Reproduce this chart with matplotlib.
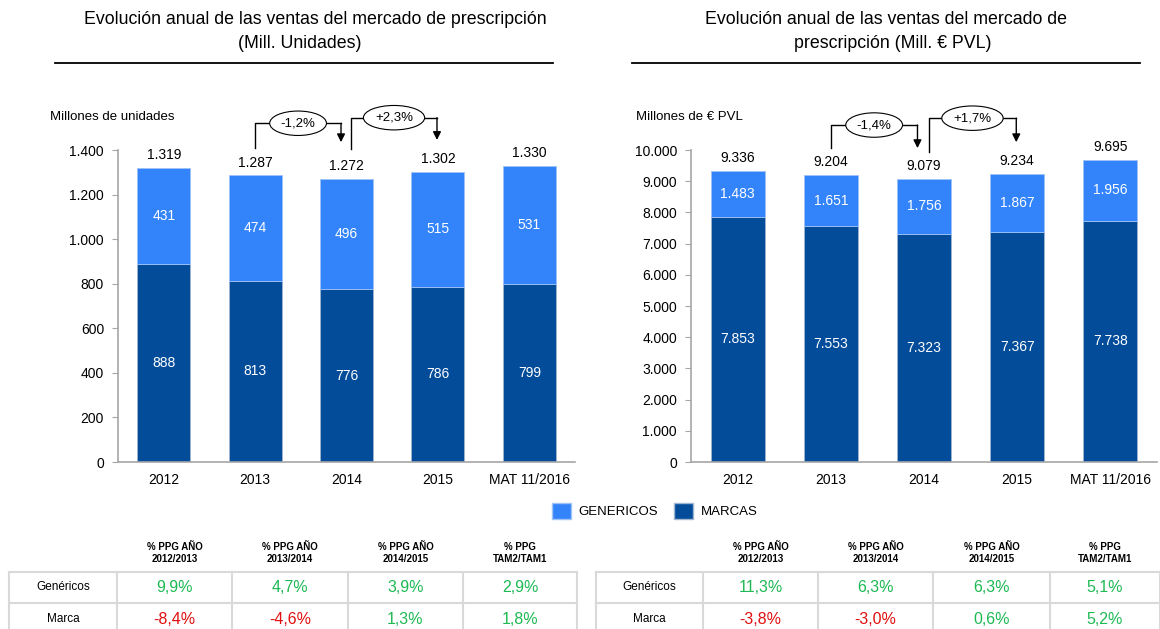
import matplotlib
matplotlib.use('Agg')
import matplotlib.pyplot as plt
from matplotlib.patches import Patch
from matplotlib.lines import Line2D
from matplotlib.ticker import FuncFormatter

plt.rcParams['font.family'] = ['Liberation Sans', 'DejaVu Sans']

# data
categories = ['2012', '2013', '2014', '2015', 'MAT 11/2016']
unid_marcas = [888, 813, 776, 786, 799]
unid_genericos = [431, 474, 496, 515, 531]
unid_total = [1319, 1287, 1272, 1302, 1330]
pvl_marcas = [7853, 7553, 7323, 7367, 7738]
pvl_genericos = [1483, 1651, 1756, 1867, 1956]
pvl_total = [9336, 9204, 9079, 9234, 9695]
unid_growth = ['-1,2%', '+2,3%']
pvl_growth = ['-1,4%', '+1,7%']

tbl_headers = ['% PPG AÑO\n2012/2013', '% PPG AÑO\n2013/2014', '% PPG AÑO\n2014/2015', '% PPG\nTAM2/TAM1']
tbl_rows = ['Genéricos', 'Marca']
unid_gen_pct = ['9,9%', '4,7%', '3,9%', '2,9%']
unid_mar_pct = ['-8,4%', '-4,6%', '1,3%', '1,8%']
pvl_gen_pct = ['11,3%', '6,3%', '6,3%', '5,1%']
pvl_mar_pct = ['-3,8%', '-3,0%', '0,6%', '5,2%']

C_GEN = '#3384FA'
C_MAR = '#024C9A'
GREEN = '#1DB954'
RED = '#E01010'
W, H = 1160, 629

fig = plt.figure(figsize=(11.6, 6.29), dpi=100)


def fx(px):
    return px / W


def fy(py):
    return 1 - py / H


def thousands(v, pos=None):
    return '{:,.0f}'.format(v).replace(',', '.')


def bar_panel(ax, marcas, genericos, total, ymax, step):
    x = range(len(categories))
    ax.bar(x, marcas, width=0.58, color=C_MAR, edgecolor='#9fb5d0', linewidth=0.6, zorder=2)
    ax.bar(x, genericos, bottom=marcas, width=0.58, color=C_GEN, edgecolor='#9fc3f5', linewidth=0.6, zorder=2)
    ax.set_xlim(-0.5, 4.5)
    ax.set_ylim(0, ymax)
    ax.set_yticks(range(0, ymax + 1, step))
    ax.yaxis.set_major_formatter(FuncFormatter(thousands))
    ax.set_xticks(list(x))
    ax.set_xticklabels(categories)
    for s in ['top', 'right']:
        ax.spines[s].set_visible(False)
    for s in ['left', 'bottom']:
        ax.spines[s].set_color('#a6a6a6')
        ax.spines[s].set_linewidth(1.2)
    ax.tick_params(axis='y', length=4, color='#a6a6a6', labelsize=10, pad=6)
    ax.tick_params(axis='x', length=0, labelsize=10, pad=8)
    for i in x:
        ax.text(i, marcas[i] / 2, thousands(marcas[i]), ha='center', va='center',
                color='white', fontsize=10)
        ax.text(i, marcas[i] + genericos[i] / 2, thousands(genericos[i]), ha='center',
                va='center', color='white', fontsize=10)
        ax.annotate(thousands(total[i]), (i, total[i]), xytext=(0, 4),
                    textcoords='offset points', ha='center', va='bottom', fontsize=10)


def connector(ax, x0, x1, y0, yline, ytip, label):
    ax.plot([x0, x0, x1], [y0, yline, yline], color='black', lw=1, clip_on=False)
    ax.annotate('', xy=(x1, ytip), xytext=(x1, yline),
                arrowprops=dict(arrowstyle='-|>', color='black', lw=1,
                                mutation_scale=12, shrinkA=0, shrinkB=0),
                annotation_clip=False)
    ax.text((x0 + x1) / 2, yline, label, ha='center', va='center', fontsize=9.5,
            bbox=dict(boxstyle='ellipse,pad=0.2', fc='white', ec='black', lw=0.8))


# left panel: units
ax1 = fig.add_axes([fx(118), fy(462), fx(575 - 118), (462 - 150) / H])
bar_panel(ax1, unid_marcas, unid_genericos, unid_total, 1400, 200)
connector(ax1, 1.0, 1.94, 1410, 1520, 1435, unid_growth[0])
connector(ax1, 2.05, 2.99, 1405, 1545, 1445, unid_growth[1])

# right panel: euros PVL
ax2 = fig.add_axes([fx(691), fy(462), fx(1157 - 691), (462 - 150) / H])
bar_panel(ax2, pvl_marcas, pvl_genericos, pvl_total, 10000, 1000)
connector(ax2, 1.0, 1.93, 10080, 10800, 10060, pvl_growth[0])
connector(ax2, 2.05, 2.99, 9950, 11020, 10250, pvl_growth[1])

# titles
fig.text(fx(315), fy(20), 'Evolución anual de las ventas del mercado de prescripción',
         ha='center', va='center', fontsize=12.8)
fig.text(fx(300), fy(43), '(Mill. Unidades)', ha='center', va='center', fontsize=12.8)
fig.text(fx(886), fy(20), 'Evolución anual de las ventas del mercado de',
         ha='center', va='center', fontsize=12.8)
fig.text(fx(893), fy(43), 'prescripción (Mill. € PVL)', ha='center', va='center', fontsize=12.8)
fig.add_artist(Line2D([fx(55), fx(553)], [fy(63), fy(63)], color='black', lw=1.3))
fig.add_artist(Line2D([fx(632), fx(1140)], [fy(63), fy(63)], color='black', lw=1.3))
fig.text(fx(50), fy(117), 'Millones de unidades', ha='left', va='center', fontsize=9.5)
fig.text(fx(636), fy(117), 'Millones de € PVL', ha='left', va='center', fontsize=9.5)

# legend
handles = [Patch(facecolor=C_GEN, edgecolor='#9fc3f5', label='GENERICOS'),
           Patch(facecolor=C_MAR, edgecolor='#9fb5d0', label='MARCAS')]
fig.legend(handles=handles, loc='center', bbox_to_anchor=(fx(655), fy(511)), ncol=2,
           frameon=False, fontsize=9.5, handlelength=1.4, handleheight=1.4,
           columnspacing=1.2, handletextpad=0.6)


# tables
def table(x_edges, gen, mar):
    grid = '#d9d9d9'
    ys = [572, 603, 634]
    for y in ys:
        fig.add_artist(Line2D([fx(x_edges[0]), fx(x_edges[-1])], [fy(y), fy(y)], color=grid, lw=1.5))
    for x in x_edges:
        fig.add_artist(Line2D([fx(x), fx(x)], [fy(572), fy(634)], color=grid, lw=1.5))
    lab_x = (x_edges[0] + x_edges[1]) / 2
    fig.text(fx(lab_x), fy(587), tbl_rows[0], ha='center', va='center', fontsize=8.5)
    fig.text(fx(lab_x), fy(619), tbl_rows[1], ha='center', va='center', fontsize=8.5)
    for j in range(4):
        cx = (x_edges[j + 1] + x_edges[j + 2]) / 2
        fig.text(fx(cx), fy(553), tbl_headers[j], ha='center', va='center', fontsize=7,
                 fontweight='bold', linespacing=1.3)
        for val, y in [(gen[j], 587), (mar[j], 619)]:
            col = RED if val.startswith('-') else GREEN
            fig.text(fx(cx), fy(y), val, ha='center', va='center', fontsize=11.5, color=col)


table([9, 117, 232, 348, 463, 577], unid_gen_pct, unid_mar_pct)
table([596, 703, 818, 933, 1050, 1160], pvl_gen_pct, pvl_mar_pct)

fig.savefig('out.png', dpi=100)
